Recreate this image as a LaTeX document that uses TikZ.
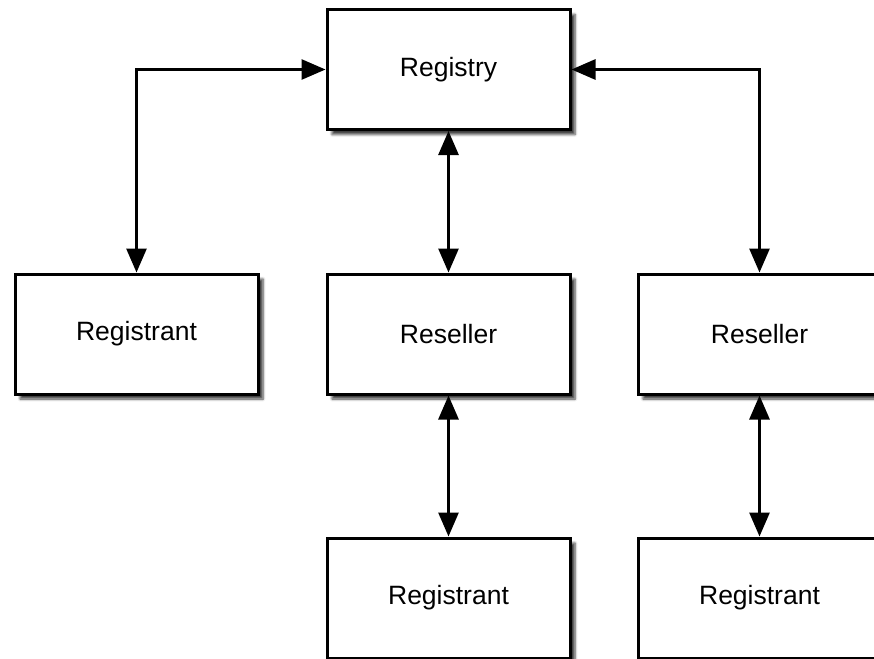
\documentclass[tikz,border=0pt]{standalone}
\usepackage{fontspec}
\setmainfont{Liberation Sans}
\usetikzlibrary{arrows.meta,shadows.blur}
\begin{document}
\begin{tikzpicture}[x=1pt,y=-1pt,
  box/.style={draw=black, line width=3pt, fill=white, rectangle,
    minimum width=243pt, minimum height=120pt, inner sep=0pt,
    font=\fontsize{26.5}{30}\selectfont,
    blur shadow={shadow xshift=5pt, shadow yshift=-5pt, shadow blur steps=5, shadow blur radius=2.5pt, shadow opacity=75}},
  conn/.style={line width=2.8pt, {Triangle[length=24pt,width=20pt]}-{Triangle[length=24pt,width=20pt]}}]
\useasboundingbox (0,0) rectangle (874,658);
\clip (0,0) rectangle (874,658);
\node[box] (reg) at (448.5,69.5) {Registry};
\node[box] (rl) at (136.5,334) {Registrant};
\node[box] (rm) at (448.5,334) {Reseller};
\node[box] (rr) at (759.5,334) {Reseller};
\node[box] (bm) at (448.5,598) {Registrant};
\node[box] (br) at (759.5,598) {Registrant};
\draw[conn] (reg.west) -| (rl.north);
\draw[conn] (reg.south) -- (rm.north);
\draw[conn] (reg.east) -| (rr.north);
\draw[conn] (rm.south) -- (bm.north);
\draw[conn] (rr.south) -- (br.north);
\end{tikzpicture}
\end{document}
